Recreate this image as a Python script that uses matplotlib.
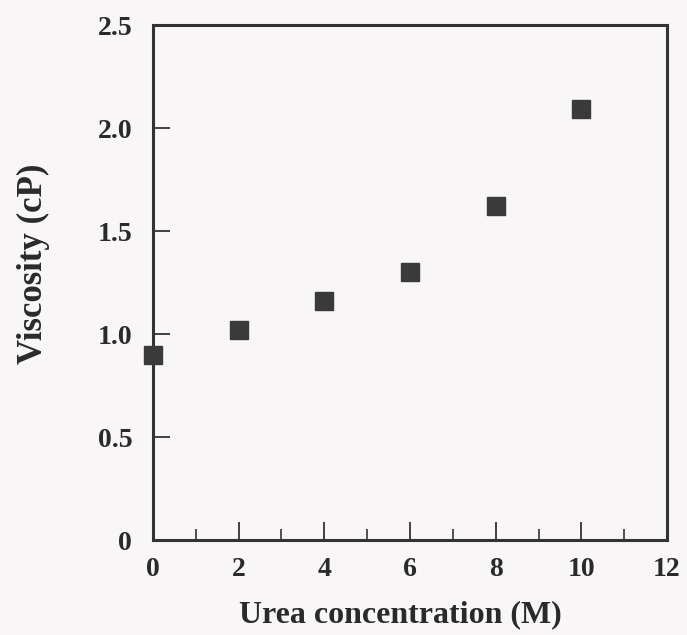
import matplotlib
matplotlib.use("Agg")
import matplotlib.pyplot as plt
from matplotlib.ticker import MultipleLocator

urea = [0, 2, 4, 6, 8, 10]
viscosity = [0.90, 1.02, 1.16, 1.30, 1.62, 2.09]

xticks = [0, 2, 4, 6, 8, 10, 12]
yticks = [0, 0.5, 1.0, 1.5, 2.0, 2.5]
ytick_labels = ["0", "0.5", "1.0", "1.5", "2.0", "2.5"]

plt.rcParams['font.family'] = ['Liberation Serif', 'DejaVu Serif']
plt.rcParams['font.weight'] = 'bold'

ink = '#333333'
txt = '#2a2a2a'
fig = plt.figure(figsize=(6.87, 6.35), dpi=100, facecolor='#f8f6f6')
ax = fig.add_axes([0.2227, 0.1496, 0.7482, 0.811])
ax.set_facecolor('#f8f6f6')

ax.plot(urea, viscosity, 's', ms=12.5, color='#3a3a3a', mec='#3a3a3a', clip_on=False, zorder=3)

ax.set_xlim(0, 12)
ax.set_ylim(0, 2.5)
ax.set_xticks(xticks)
ax.set_xticklabels([str(t) for t in xticks])
ax.xaxis.set_minor_locator(MultipleLocator(1))
ax.set_yticks(yticks)
ax.set_yticklabels(ytick_labels)

for s in ax.spines.values():
    s.set_linewidth(2.2)
    s.set_color(ink)

ax.tick_params(axis='x', which='major', direction='in', length=13, width=1.3,
               color=ink, labelsize=20, pad=12, labelcolor=txt)
ax.tick_params(axis='x', which='minor', direction='in', length=8, width=1.2, color=ink)
ax.tick_params(axis='y', which='major', direction='in', length=12, width=1.3,
               color=ink, labelsize=20, pad=15, labelcolor=txt)

ax.set_xlabel('Urea concentration (M)', fontsize=23, fontweight='bold', color=txt)
ax.set_ylabel('Viscosity (cP)', fontsize=25, fontweight='bold', color=txt)
# label positions in axes coordinates
ax.xaxis.set_label_coords(0.482, -0.117)
ax.yaxis.set_label_coords(-0.2, 0.536)

fig.savefig('out.png', dpi=100, facecolor=fig.get_facecolor())
